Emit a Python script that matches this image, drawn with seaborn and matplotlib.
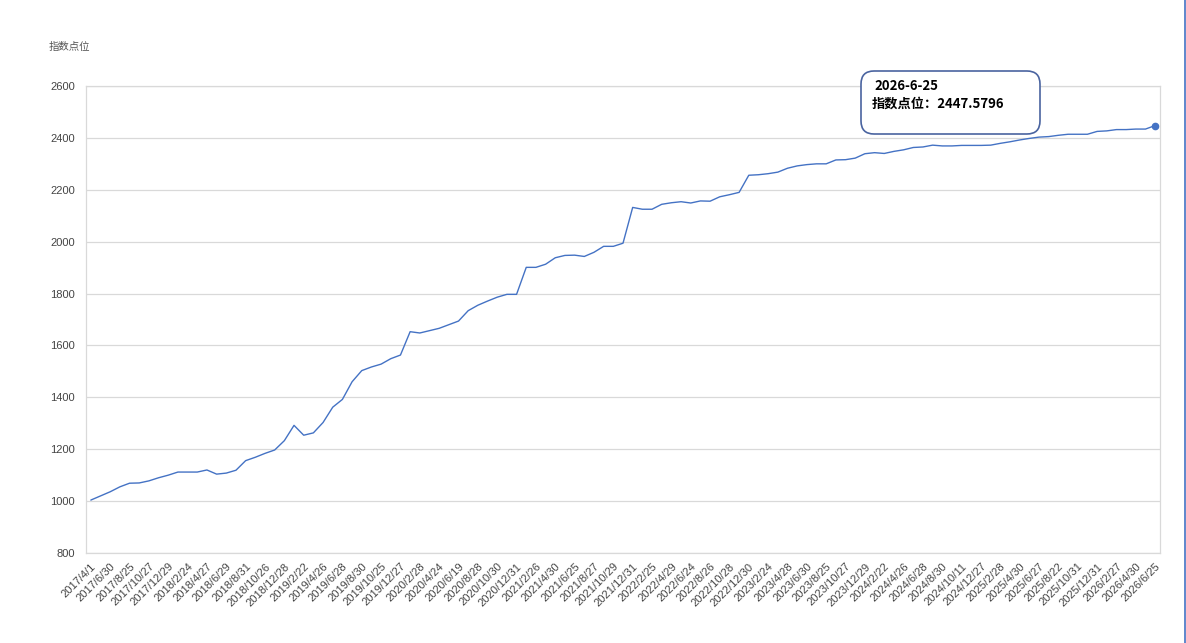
import matplotlib
matplotlib.use('Agg')

import matplotlib.pyplot as plt
from matplotlib.patches import FancyBboxPatch
from matplotlib.lines import Line2D
import seaborn as sns
import pandas as pd

# monthly index level
values = [
    1004, 1020, 1036, 1055, 1069, 1070, 1078, 1090, 1100, 1112,
    1112, 1112, 1120, 1104, 1108, 1119, 1156, 1169, 1184, 1197,
    1233, 1292, 1254, 1263, 1303, 1362, 1392, 1460, 1503, 1517,
    1528, 1549, 1563, 1653, 1648, 1657, 1666, 1680, 1694, 1734,
    1755, 1771, 1786, 1797, 1797, 1901, 1901, 1913, 1938, 1947,
    1948, 1943, 1959, 1982, 1982, 1994, 2132, 2125, 2125, 2144,
    2150, 2154, 2149, 2157, 2156, 2173, 2181, 2190, 2256, 2258,
    2262, 2268, 2283, 2292, 2297, 2300, 2300, 2315, 2316, 2322,
    2339, 2343, 2340, 2348, 2354, 2363, 2365, 2372, 2369, 2369,
    2371, 2371, 2371, 2372, 2379, 2385, 2392, 2398, 2403, 2405,
    2410, 2414, 2414, 2414, 2425, 2427, 2432, 2432, 2434, 2434,
    2447.5796,
]

# labels shown on every second point
tick_labels = [
    '2017/4/1', '2017/6/30', '2017/8/25', '2017/10/27', '2017/12/29',
    '2018/2/24', '2018/4/27', '2018/6/29', '2018/8/31', '2018/10/26', '2018/12/28',
    '2019/2/22', '2019/4/26', '2019/6/28', '2019/8/30', '2019/10/25', '2019/12/27',
    '2020/2/28', '2020/4/24', '2020/6/19', '2020/8/28', '2020/10/30', '2020/12/31',
    '2021/2/26', '2021/4/30', '2021/6/25', '2021/8/27', '2021/10/29', '2021/12/31',
    '2022/2/25', '2022/4/29', '2022/6/24', '2022/8/26', '2022/10/28', '2022/12/30',
    '2023/2/24', '2023/4/28', '2023/6/30', '2023/8/25', '2023/10/27', '2023/12/29',
    '2024/2/22', '2024/4/26', '2024/6/28', '2024/8/30', '2024/10/11', '2024/12/27',
    '2025/2/28', '2025/4/30', '2025/6/27', '2025/8/22', '2025/10/31', '2025/12/31',
    '2026/2/27', '2026/4/30', '2026/6/25',
]

y_ticks = [800, 1000, 1200, 1400, 1600, 1800, 2000, 2200, 2400, 2600]

tip_date = '2026-6-25'
tip_value = '2447.5796'

sns.set_style('white')
plt.rcParams['font.family'] = ['Noto Sans CJK SC', 'DejaVu Sans']

df = pd.DataFrame({'idx': range(len(values)), 'value': values})

fig = plt.figure(figsize=(11.86, 6.43), dpi=100)
ax = fig.add_axes([86 / 1186, 90 / 643, 1074 / 1186, 467 / 643])

sns.lineplot(data=df, x='idx', y='value', ax=ax, color='#4472c4', linewidth=1.0)
ax.plot(df['idx'].iloc[-1], df['value'].iloc[-1], 'o', color='#4472c4', markersize=4.5)

ax.set_xlim(-0.5, len(values) - 0.5)
ax.set_ylim(800, 2600)
ax.set_yticks(y_ticks)
ax.set_yticklabels([str(v) for v in y_ticks], fontsize=8, color='#444444',
                   family='Liberation Sans')
ax.yaxis.grid(True, color='#d9d9d9', linewidth=0.9)
ax.tick_params(axis='y', length=0, pad=8)

pos = list(range(0, len(values), 2))
ax.set_xticks(pos)
ax.set_xticklabels(tick_labels, rotation=45, ha='right', va='top',
                   rotation_mode='anchor', fontsize=8, color='#444444',
                   family='Liberation Sans')
ax.tick_params(axis='x', which='major', length=0, pad=6)
ax.set_xticks([p - 0.5 for p in pos] + [len(values) - 0.5], minor=True)
ax.tick_params(axis='x', which='minor', length=5, color='#cccccc', width=0.9)

for s in ax.spines.values():
    s.set_color('#d9d9d9')
    s.set_linewidth(0.9)

ax.set_xlabel('')
ax.set_ylabel('')
fig.text(49 / 1186, 1 - 47 / 643, '指数点位', fontsize=7.5, color='#555555',
         va='center', ha='left')

# tooltip box
box = FancyBboxPatch((861 / 1186, 1 - 134 / 643), 179 / 1186, 63 / 643,
                     boxstyle='round,pad=0,rounding_size=0.011',
                     transform=fig.transFigure, facecolor='white',
                     edgecolor='#4a64a0', linewidth=1.2, mutation_aspect=1186 / 643)
fig.patches.append(box)
fig.text(874 / 1186, 1 - 86 / 643, tip_date, fontsize=9.5, fontweight='bold',
         color='black', va='center', ha='left')
fig.text(872 / 1186, 1 - 104 / 643, '指数点位：' + tip_value, fontsize=9.5,
         fontweight='bold', color='black', va='center', ha='left')

# page edge on the right
fig.lines.append(Line2D([1185 / 1186, 1185 / 1186], [0, 1], transform=fig.transFigure,
                        color='#4472c4', linewidth=1.2))

fig.savefig('out.png', dpi=100)
